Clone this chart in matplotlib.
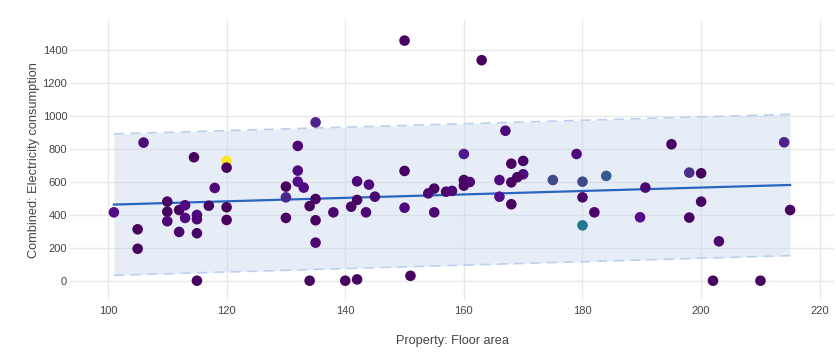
import matplotlib
matplotlib.use("Agg")
import matplotlib.pyplot as plt
from matplotlib.colors import LinearSegmentedColormap
import numpy as np

# ---- data ----
floor_area = [101, 106, 105, 105, 110, 110, 110, 112, 113, 113, 112, 114.5, 115, 115, 115, 115,
              117, 118, 120, 120, 120, 120, 130, 130, 130, 135, 132, 132, 132, 133, 135, 134,
              135, 135, 134, 138, 141, 142, 142, 140, 142, 144, 143.5, 145, 150, 150, 150, 151,
              154, 155, 155, 157, 158, 160, 160, 160, 161, 163, 167, 168, 170, 170, 169, 168,
              166, 166, 168, 175, 179, 180, 180, 182, 180, 184, 189.7, 195, 198, 200, 190.6,
              198, 200, 203, 202, 210, 214, 215]
electricity = [415, 838, 312, 194, 480, 419, 361, 429, 458, 381, 296, 749, 399, 373, 288, 0,
               455, 563, 727, 686, 446, 369, 571, 506, 381, 961, 818, 668, 601, 565, 496, 453,
               367, 231, 0, 415, 449, 603, 490, 0, 8, 583, 415, 510, 1457, 666, 443, 30,
               530, 559, 415, 540, 545, 769, 611, 577, 599, 1338, 910, 710, 727, 646, 628, 597,
               611, 510, 464, 611, 769, 601, 506, 415, 336, 636, 385, 828, 656, 652, 565,
               383, 480, 239, 0, 0, 840, 429]
colour_value = [0.10, 0.07, 0.02, 0.02, 0.03, 0.03, 0.06, 0.02, 0.08, 0.08, 0.05, 0.02, 0.08, 0.06, 0.03, 0.02,
                0.03, 0.08, 1.00, 0.02, 0.02, 0.02, 0.02, 0.16, 0.03, 0.15, 0.06, 0.08, 0.10, 0.08, 0.03, 0.02,
                0.02, 0.05, 0.02, 0.05, 0.03, 0.07, 0.03, 0.02, 0.02, 0.08, 0.06, 0.05, 0.02, 0.02, 0.08, 0.02,
                0.06, 0.03, 0.06, 0.04, 0.07, 0.13, 0.03, 0.03, 0.06, 0.02, 0.07, 0.02, 0.03, 0.08, 0.03, 0.02,
                0.08, 0.10, 0.02, 0.24, 0.07, 0.24, 0.05, 0.04, 0.45, 0.28, 0.10, 0.02, 0.18, 0.02, 0.06,
                0.03, 0.03, 0.05, 0.02, 0.02, 0.15, 0.03]

trend_x = [101, 215]
trend_y = [462, 581]
interval_half_width = 429

x_ticks = [100, 120, 140, 160, 180, 200, 220]
y_ticks = [0, 200, 400, 600, 800, 1000, 1200, 1400]

# ---- figure ----
plt.rcParams['font.family'] = ['Liberation Sans', 'DejaVu Sans']
fig = plt.figure(figsize=(8.36, 3.61), dpi=100)
ax = fig.add_axes([70 / 836, 1 - 300 / 361, (834 - 70) / 836, (300 - 20) / 361])

cmap = LinearSegmentedColormap.from_list(
    'vir', [(0.0, '#440154'), (0.1, '#530d8c'), (0.2, '#46398a'),
            (0.3, '#33628d'), (0.45, '#21788f'), (1.0, '#fde725')])

tx = np.array(trend_x, dtype=float)
ty = np.array(trend_y, dtype=float)
upper = ty + interval_half_width
lower = ty - interval_half_width

ax.fill_between(tx, lower, upper, color='#c5d4eb', alpha=0.4, linewidth=0, zorder=1)
ax.plot(tx, upper, color='#bcd0ee', lw=1.2, ls=(0, (6, 4)), zorder=2)
ax.plot(tx, lower, color='#bcd0ee', lw=1.2, ls=(0, (6, 4)), zorder=2)
ax.plot(tx, ty, color='#2a66c0', lw=1.6, zorder=3)

ax.scatter(floor_area, electricity, c=colour_value, cmap=cmap, vmin=0, vmax=1,
           s=58, linewidths=0, zorder=4)

ax.set_xlim(93.6, 222.4)
ax.set_ylim(-117, 1582)
ax.set_xticks(x_ticks)
ax.set_yticks(y_ticks)
ax.grid(True, color='#e8e8e8', lw=1, zorder=0)
ax.set_axisbelow(True)
for s in ax.spines.values():
    s.set_visible(False)
ax.tick_params(length=0, labelsize=8, colors='#444444')
ax.tick_params(axis='x', pad=4)
ax.tick_params(axis='y', pad=2)
ax.set_xlabel('Property: Floor area', fontsize=9.2, color='#444444', labelpad=14)
ax.set_ylabel('Combined: Electricity consumption', fontsize=9.2, color='#444444', labelpad=2)

fig.savefig('out.png', dpi=100)
